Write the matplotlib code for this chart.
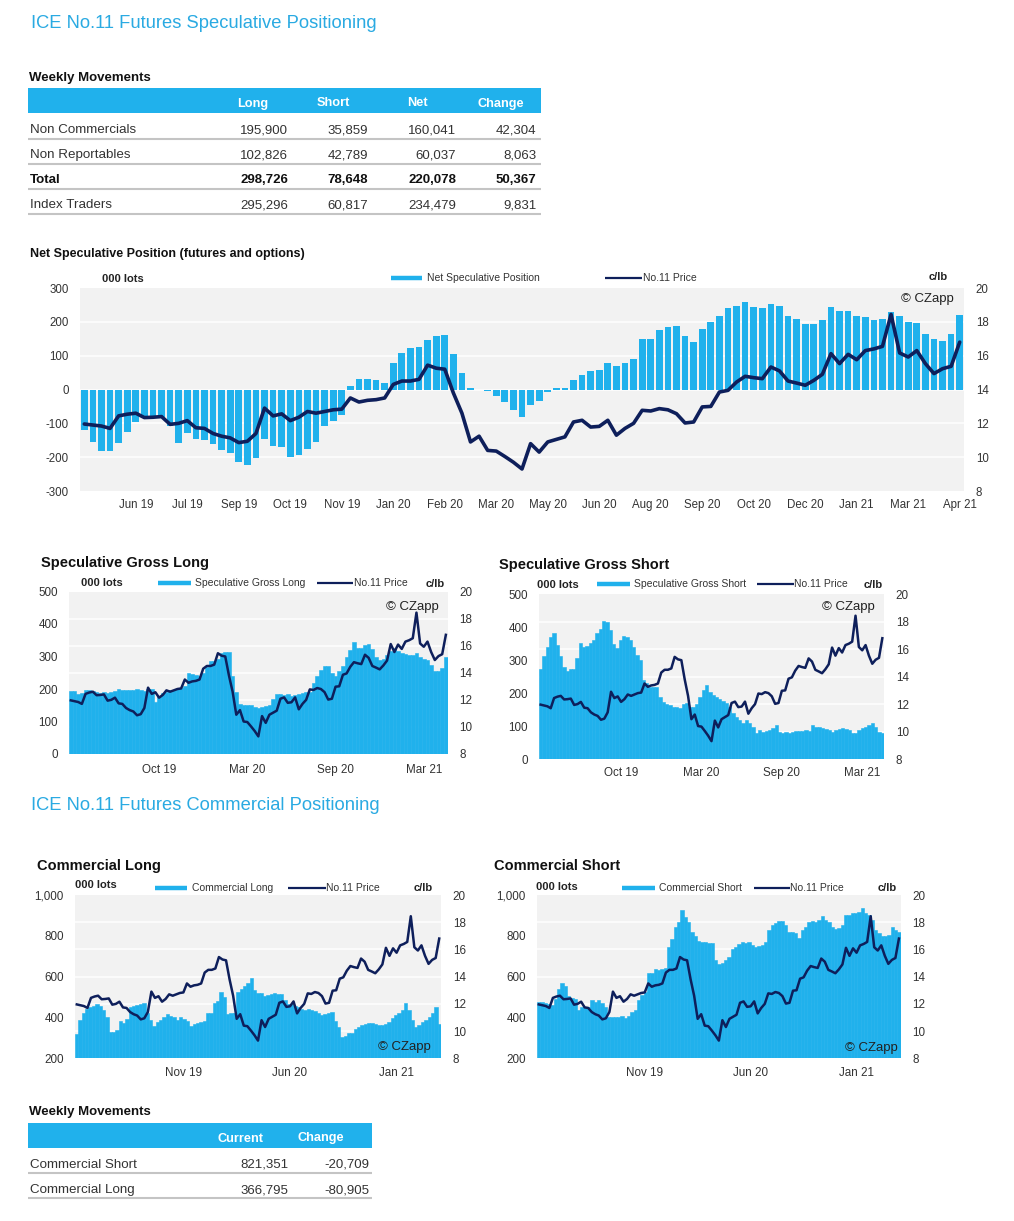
import numpy as np
import matplotlib
matplotlib.use("Agg")
import matplotlib.pyplot as plt
from matplotlib.lines import Line2D
from matplotlib.patches import Rectangle

# ---------------- data ----------------
price = [11.96, 11.9, 11.84, 11.7, 12.44, 12.54, 12.6, 12.34, 12.36, 12.4,
         11.94, 12.0, 12.16, 11.74, 11.7, 11.4, 11.24, 11.14, 10.86, 10.94,
         11.4, 12.9, 12.44, 12.56, 12.16, 12.36, 12.7, 12.6, 12.7, 12.8,
         12.84, 13.5, 13.26, 13.36, 13.4, 13.5, 14.3, 14.5, 14.5, 14.6,
         15.44, 15.26, 15.2, 13.8, 12.6, 10.9, 11.24, 10.4, 10.36, 10.04,
         9.7, 9.3,
         10.8, 10.3, 10.9, 11.05, 11.2, 12.08, 12.18, 11.78, 11.82, 12.18,
         11.3, 11.7, 12.0, 12.77, 12.73, 12.87, 12.8, 12.57, 12.02, 12.08,
         12.97, 13.0, 13.85, 13.95, 14.44, 14.78, 14.7, 14.64, 15.33, 15.1,
         14.5, 14.38, 14.25, 14.54, 14.9, 16.12, 15.53, 16.08, 15.76, 16.3,
         16.4, 16.55, 18.44, 16.16, 15.92, 16.3, 15.53, 14.94, 15.23, 15.37,
         16.8]

net_spec = [-120, -155, -183, -181, -157, -125, -97, -82, -80, -80,
            -108, -157, -130, -147, -150, -162, -178, -188, -215, -222,
            -203, -145, -168, -170, -200, -193, -175, -155, -108, -93,
            -75, 10, 30, 30, 28, 20, 78, 108, 122, 127,
            147, 157, 162, 105, 48, 5, -1, -3, -20, -38,
            -62, -80,
            -45, -33, -7, 3, 5, 28, 42, 55, 57, 78,
            68, 77, 90, 148, 150, 177, 186, 188, 157, 140,
            178, 200, 217, 240, 247, 260, 243, 240, 253, 247,
            218, 208, 195, 195, 205, 243, 232, 233, 218, 213,
            205, 208, 230, 218, 200, 196, 165, 148, 143, 165,
            220]

gross_long = [195, 193, 185, 188, 197, 197, 195, 192, 188, 190,
              188, 190, 193, 200, 196, 198, 197, 198, 200, 196,
              193, 200, 200, 160, 178, 188, 192, 198, 198, 200,
              203, 210, 250, 245, 243, 240, 250, 268, 285, 285,
              292, 312, 315, 315, 240, 190, 155, 152, 150, 152,
              145, 143, 145, 148, 152, 168, 185, 185, 183, 185,
              178, 182, 185, 188, 190, 192, 220, 240, 260, 270,
              272, 248, 240, 255, 272, 300, 320, 345, 325, 325,
              335, 340, 322, 300, 290, 292, 305, 318, 325, 318,
              312, 308, 306, 305, 310, 300, 292, 290, 275, 255,
              255, 265, 298]

gross_short = [273, 313, 341, 371, 384, 346, 313, 280, 268, 272,
               272, 306, 353, 339, 343, 351, 361, 382, 394, 420,
               417, 392, 349, 336, 361, 373, 371, 361, 341, 316,
               301, 240, 230, 218, 218, 220, 189, 174, 167, 163,
               159, 159, 154, 167, 171, 159, 157, 167, 189, 210,
               225, 204, 194, 187, 182, 177, 169, 159, 141, 129,
               118, 108, 118, 108, 98, 80, 88, 83, 86, 88,
               93, 103, 83, 78, 83, 80, 83, 86, 85, 86,
               88, 86, 103, 98, 96, 93, 90, 88, 83, 88,
               91, 93, 92, 88, 78, 78, 88, 93, 98, 103,
               108, 98, 83, 79]

comm_long = [319, 388, 420, 440, 453, 456, 466, 456, 437, 404,
             331, 331, 339, 384, 375, 391, 453, 456, 460, 464,
             469, 420, 388, 358, 380, 388, 404, 417, 407, 401,
             388, 404, 391, 384, 358, 368, 371, 380, 383, 424,
             420, 469, 482, 527, 502, 417, 420, 420, 527, 538,
             554, 571, 592, 535, 522, 518, 505, 510, 515, 518,
             515, 515, 486, 466, 466, 456, 450, 440, 437, 440,
             437, 433, 420, 412, 417, 420, 428, 384, 355, 303,
             310, 322, 326, 342, 355, 363, 368, 371, 371, 368,
             363, 363, 368, 380, 396, 412, 424, 437, 469, 437,
             388, 352, 363, 380, 388, 404, 424, 450, 367]

comm_short = [478, 478, 469, 466, 461, 489, 538, 567, 554, 505,
              494, 489, 437, 450, 445, 453, 486, 478, 486, 469,
              453, 404, 401, 404, 404, 409, 399, 407, 429, 437,
              486, 510, 527, 620, 616, 636, 633, 638, 641, 744,
              783, 845, 869, 927, 894, 869, 820, 799, 776, 771,
              771, 767, 763, 682, 662, 669, 682, 698, 734, 747,
              760, 771, 763, 771, 755, 747, 750, 755, 771, 829,
              853, 861, 874, 874, 853, 820, 820, 816, 788, 829,
              842, 869, 874, 869, 878, 897, 878, 869, 842, 833,
              837, 853, 902, 902, 914, 914, 918, 935, 914, 902,
              878, 829, 816, 799, 799, 804, 842, 829, 821]

net_tick_pos = [6, 12, 18, 24, 30, 36, 42, 48, 54, 60, 66, 72, 78, 84, 90, 96, 102]
net_tick_labels = ["Jun 19", "Jul 19", "Sep 19", "Oct 19", "Nov 19", "Jan 20",
                   "Feb 20", "Mar 20", "May 20", "Jun 20", "Aug 20", "Sep 20",
                   "Oct 20", "Dec 20", "Jan 21", "Mar 21", "Apr 21"]
gross_tick_pos = [24, 48, 72, 96]
gross_tick_labels = ["Oct 19", "Mar 20", "Sep 20", "Mar 21"]
comm_tick_pos = [30, 60, 90]
comm_tick_labels = ["Nov 19", "Jun 20", "Jan 21"]

price_ticks = [8, 10, 12, 14, 16, 18, 20]
net_yticks = [-300, -200, -100, 0, 100, 200, 300]
gross_yticks = [0, 100, 200, 300, 400, 500]
comm_yticks = [200, 400, 600, 800, 1000]
comm_ylabels = ["200", "400", "600", "800", "1,000"]

spec_rows = ["Non Commercials", "Non Reportables", "Total", "Index Traders"]
spec_cols = ["Long", "Short", "Net", "Change"]
spec_long = ["195,900", "102,826", "298,726", "295,296"]
spec_short = ["35,859", "42,789", "78,648", "60,817"]
spec_net = ["160,041", "60,037", "220,078", "234,479"]
spec_change = ["42,304", "8,063", "50,367", "9,831"]

comm_rows = ["Commercial Short", "Commercial Long"]
comm_cols = ["Current", "Change"]
comm_current = ["821,351", "366,795"]
comm_change = ["-20,709", "-80,905"]

# ---------------- style ----------------
W, H = 1014, 1221
BLUE = "#20b1ec"
NAVY = "#0e1f5b"
BG = "#f2f2f2"
TITLE_BLUE = "#2aaae2"
TXT = "#333333"
LINEGREY = "#c4c4c4"

plt.rcParams["font.family"] = ["Liberation Sans", "DejaVu Sans"]

fig = plt.figure(figsize=(W / 100, H / 100), dpi=100)
fig.patch.set_facecolor("white")


def add_ax(x0, y0, x1, y1):
    return fig.add_axes([x0 / W, 1 - y1 / H, (x1 - x0) / W, (y1 - y0) / H])


def ftext(x, y, s, **kw):
    kw.setdefault("va", "center")
    kw.setdefault("color", TXT)
    return fig.text(x / W, 1 - y / H, s, **kw)


def fline(x0, x1, y, color, lw):
    fig.add_artist(Line2D([x0 / W, x1 / W], [1 - y / H, 1 - y / H],
                          color=color, lw=lw, solid_capstyle="butt"))


def frect(x0, y0, x1, y1, color):
    fig.add_artist(Rectangle((x0 / W, 1 - y1 / H), (x1 - x0) / W, (y1 - y0) / H,
                             facecolor=color, edgecolor="none",
                             transform=fig.transFigure))


N = len(price)
idx = np.arange(N)


def setup(ax, ylim, yticks, ylabels, xpos, xlabels, fs, xpad):
    ax.set_facecolor(BG)
    for s in ax.spines.values():
        s.set_visible(False)
    ax.set_xlim(-0.5, N - 0.5)
    ax.set_ylim(*ylim)
    ax.set_yticks(yticks, ylabels)
    ax.set_xticks(xpos, xlabels)
    ax.tick_params(axis="both", length=0, labelsize=fs, labelcolor=TXT)
    ax.tick_params(axis="y", pad=8)
    ax.tick_params(axis="x", pad=xpad)
    lo, hi = ylim
    for p in price_ticks[1:-1]:
        y = lo + (p - price_ticks[0]) / (price_ticks[-1] - price_ticks[0]) * (hi - lo)
        ax.axhline(y, color="white", lw=1.1, zorder=0.8)
    ax2 = ax.twinx()
    ax2.set_ylim(price_ticks[0], price_ticks[-1])
    ax2.set_yticks(price_ticks, [str(t) for t in price_ticks])
    ax2.tick_params(length=0, labelsize=fs, labelcolor=TXT, pad=8.5)
    for s in ax2.spines.values():
        s.set_visible(False)
    return ax2


def step_area(ax, vals):
    n = len(vals)
    w = N / n
    x = -0.5 + (np.arange(n) + 0.5) * w
    ax.bar(x, vals, width=w, color=BLUE, edgecolor=BLUE, linewidth=0.4, zorder=2)


def legend(lots_xy, patch, patch_text, line, line_text, clb_xy, label, fs=7.5):
    ftext(lots_xy[0], lots_xy[1], "000 lots", fontsize=8, fontweight="bold", color="#222222")
    fline(patch[0], patch[1], patch[2], BLUE, 3.2)
    ftext(patch_text, patch[2], label, fontsize=fs)
    fline(line[0], line[1], line[2], NAVY, 1.6)
    ftext(line_text, line[2], "No.11 Price", fontsize=fs)
    ftext(clb_xy[0], clb_xy[1], "c/lb", fontsize=8, fontweight="bold",
          color="#222222", ha="right")


# ---------------- titles ----------------
ftext(31, 24, "ICE No.11 Futures Speculative Positioning", fontsize=13.2,
      color=TITLE_BLUE)
ftext(31, 806, "ICE No.11 Futures Commercial Positioning", fontsize=13.2,
      color=TITLE_BLUE)

# ---------------- speculative table ----------------
ftext(29, 78, "Weekly Movements", fontsize=9.5, fontweight="bold", color="#111111")
frect(28, 88.5, 541, 113.3, BLUE)
for c, xc in zip(spec_cols, [253, 333, 417, 501]):
    ftext(xc, 106.5, c, fontsize=9.2, fontweight="bold", color="white",
          ha="center", va="baseline")
row_y = [128.3, 153.3, 178.3, 203.3]
col_right = [288, 368, 456, 536.5]
for i, r in enumerate(spec_rows):
    fw = "bold" if r == "Total" else "normal"
    col = "#111111" if r == "Total" else TXT
    ftext(30, row_y[i] + 4.8, r, fontsize=9.6, fontweight=fw, color=col, va="baseline")
    for xr, arr in zip(col_right, [spec_long, spec_short, spec_net, spec_change]):
        ftext(xr, row_y[i] + 4.8, arr[i], fontsize=9.5, fontweight=fw, color=col,
              ha="right", va="baseline")
    fline(28, 541, row_y[i] + 10.3, LINEGREY, 1.5)

# ---------------- net speculative chart ----------------
ftext(30, 254, "Net Speculative Position (futures and options)", fontsize=9,
      fontweight="bold", color="#111111")
ax = add_ax(80, 288, 964, 491)
ax2 = setup(ax, (-300, 300), net_yticks, [str(t) for t in net_yticks],
            net_tick_pos, net_tick_labels, 8.3, 6)
ax.bar(idx, net_spec, width=0.78, color=BLUE, linewidth=0, zorder=2)
ax2.plot(idx, price, color=NAVY, lw=2.6, solid_joinstyle="round",
         solid_capstyle="round", zorder=3)
legend((102, 279.5), (391, 422, 278), 427, (605, 642, 278), 643, (948, 277),
       "Net Speculative Position")
ftext(901, 299, "\u00a9 CZapp", fontsize=9.5, color="#222222")

# ---------------- speculative gross long ----------------
ftext(41, 563, "Speculative Gross Long", fontsize=10.5, fontweight="bold", color="#111111")
ax = add_ax(69, 591.5, 447.7, 754)
ax2 = setup(ax, (0, 500), gross_yticks, [str(t) for t in gross_yticks],
            gross_tick_pos, gross_tick_labels, 8.4, 7)
step_area(ax, gross_long)
ax2.plot(idx, price, color=NAVY, lw=1.8, solid_joinstyle="round", zorder=3)
legend((81, 583), (158, 190.5, 582.5), 195, (317, 353, 582.5), 353.5, (445, 584),
       "Speculative Gross Long")
ftext(386, 607, "\u00a9 CZapp", fontsize=9.5, color="#222222")

# ---------------- speculative gross short ----------------
ftext(499, 565.5, "Speculative Gross Short", fontsize=10.5, fontweight="bold", color="#111111")
ax = add_ax(539, 594.3, 884, 759)
ax2 = setup(ax, (0, 500), gross_yticks, [str(t) for t in gross_yticks],
            gross_tick_pos, gross_tick_labels, 8.4, 6)
step_area(ax, gross_short)
ax2.plot(idx, price, color=NAVY, lw=1.8, solid_joinstyle="round", zorder=3)
legend((537, 585.5), (597, 630, 584.5), 634, (757, 794, 584.5), 794.5, (883, 585.5),
       "Speculative Gross Short")
ftext(822, 607.5, "\u00a9 CZapp", fontsize=9.5, color="#222222")

# ---------------- commercial long ----------------
ftext(37, 866, "Commercial Long", fontsize=10.5, fontweight="bold", color="#111111")
ax = add_ax(75, 895, 441, 1058.3)
ax2 = setup(ax, (200, 1000), comm_yticks, comm_ylabels,
            comm_tick_pos, comm_tick_labels, 8.4, 6)
step_area(ax, comm_long)
ax2.plot(idx, price, color=NAVY, lw=1.8, solid_joinstyle="round", zorder=3)
legend((75, 884.5), (155, 187, 888), 191.5, (288, 326, 888), 326.5, (433, 888),
       "Commercial Long")
ftext(378, 1047, "\u00a9 CZapp", fontsize=9.5, color="#222222")

# ---------------- commercial short ----------------
ftext(494, 866, "Commercial Short", fontsize=10.5, fontweight="bold", color="#111111")
ax = add_ax(537, 895, 900.7, 1058.3)
ax2 = setup(ax, (200, 1000), comm_yticks, comm_ylabels,
            comm_tick_pos, comm_tick_labels, 8.4, 6)
step_area(ax, comm_short)
ax2.plot(idx, price, color=NAVY, lw=1.8, solid_joinstyle="round", zorder=3)
legend((536, 887), (622, 655, 888), 659, (754, 790, 888), 790.5, (896.5, 888),
       "Commercial Short")
ftext(845, 1048, "\u00a9 CZapp", fontsize=9.5, color="#222222")

# ---------------- commercial table ----------------
ftext(29, 1112, "Weekly Movements", fontsize=9.5, fontweight="bold", color="#111111")
frect(28, 1123.3, 372.3, 1147.7, BLUE)
for c, xc in zip(comm_cols, [240.5, 320.5]):
    ftext(xc, 1141.5, c, fontsize=9.2, fontweight="bold", color="white",
          ha="center", va="baseline")
crow_y = [1162.7, 1188.3]
for i, r in enumerate(comm_rows):
    ftext(30, crow_y[i] + 4.8, r, fontsize=9.6, va="baseline")
    ftext(288.3, crow_y[i] + 4.8, comm_current[i], fontsize=9.5, ha="right", va="baseline")
    ftext(369, crow_y[i] + 4.8, comm_change[i], fontsize=9.5, ha="right", va="baseline")
    fline(28, 372.3, crow_y[i] + 10, LINEGREY, 1.5)

fig.savefig("out.png", dpi=100, facecolor="white")
